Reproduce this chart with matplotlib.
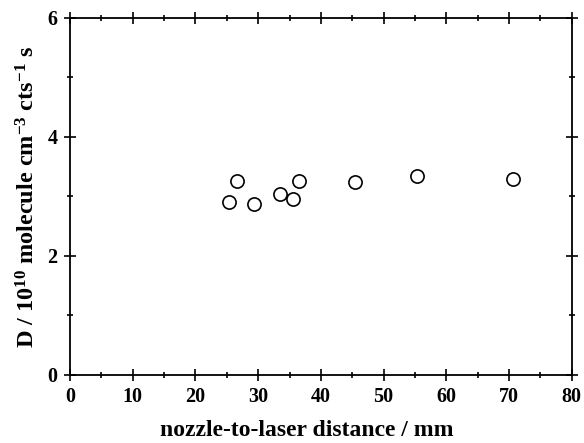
import matplotlib
matplotlib.use("Agg")
import matplotlib.pyplot as plt
from matplotlib.ticker import MultipleLocator

plt.rcParams['font.family'] = ['Liberation Serif', 'DejaVu Serif']
plt.rcParams['font.weight'] = 'bold'
plt.rcParams['mathtext.fontset'] = 'custom'
plt.rcParams['mathtext.rm'] = 'Liberation Serif:bold'
plt.rcParams['mathtext.it'] = 'Liberation Serif:bold'
plt.rcParams['mathtext.bf'] = 'Liberation Serif:bold'
plt.rcParams['mathtext.default'] = 'rm'

# nozzle-to-laser distance (mm) and D values
distance = [25.4, 26.6, 29.4, 33.4, 35.5, 36.5, 45.4, 55.4, 70.6]
d_value = [2.91, 3.26, 2.87, 3.04, 2.96, 3.26, 3.24, 3.34, 3.29]

fig = plt.figure(figsize=(5.84, 4.43), dpi=100)
ax = fig.add_axes([0.120, 0.1535, 0.859, 0.806])

ax.plot(distance, d_value, 'o', mfc='white', mec='black', ms=9.5, mew=1.2)

ax.set_xlim(0, 80)
ax.set_ylim(0, 6)
ax.xaxis.set_major_locator(MultipleLocator(10))
ax.xaxis.set_minor_locator(MultipleLocator(5))
ax.yaxis.set_major_locator(MultipleLocator(2))
ax.yaxis.set_minor_locator(MultipleLocator(1))

ax.tick_params(which='both', direction='inout', top=True, right=True,
               labelsize=14.5, width=1.2)
ax.tick_params(which='major', length=8, pad=5)
ax.tick_params(which='minor', length=5)
for s in ax.spines.values():
    s.set_linewidth(1.3)

for lab in ax.get_xticklabels() + ax.get_yticklabels():
    lab.set_fontweight('bold')

ax.set_xlabel('nozzle-to-laser distance / mm', fontsize=17, fontweight='bold')
ax.xaxis.set_label_coords(0.472, -0.125)
ax.set_ylabel('D / 10$^{10}$ molecule cm$^{-3}$ cts$^{-1}$ s', fontsize=17.5,
              fontweight='bold', labelpad=6)

fig.savefig('out.png', dpi=100)
